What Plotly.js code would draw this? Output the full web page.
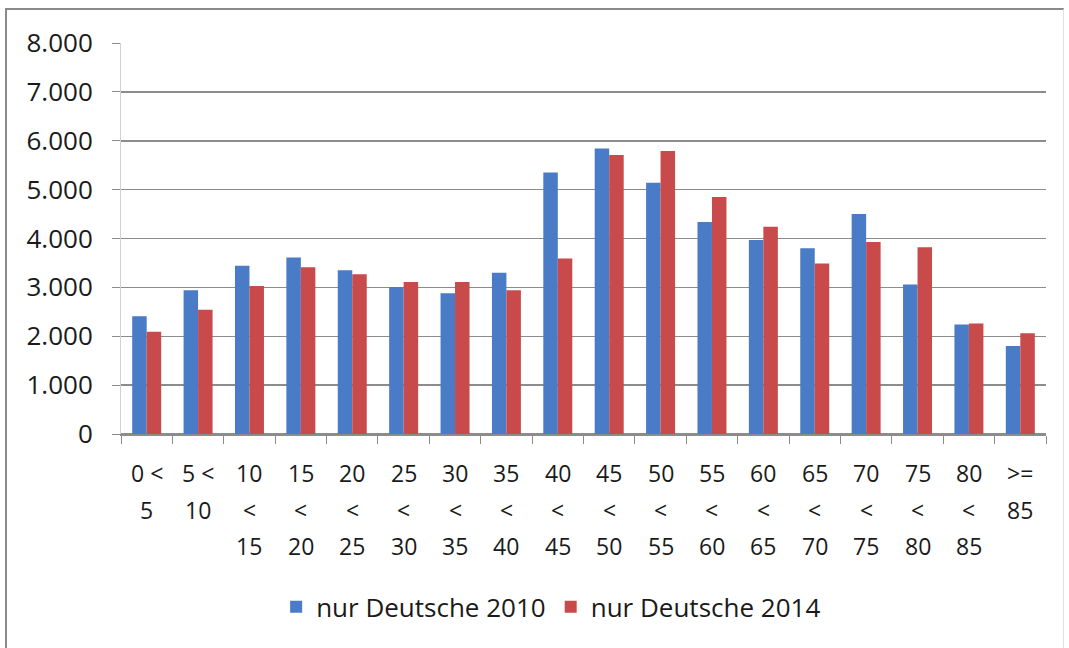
<!DOCTYPE html>
<html>
<head>
<meta charset="utf-8">
<script src="https://cdn.plot.ly/plotly-3.0.1.min.js"></script>
<style>
  html, body { margin: 0; padding: 0; background: #fff; }
  #wrap { position: relative; width: 1069px; height: 648px; }
  #chart { width: 1069px; height: 648px; }
  #frame { position: absolute; left: 5px; top: 8px; width: 1056px; height: 660px;
           border-top: 2px solid #8a8a8a; border-left: 2px solid #8a8a8a;
           border-right: 1px solid #e2e2e2; pointer-events: none; }
</style>
</head>
<body>
<div id="wrap">
  <div id="chart"></div>
  <div id="frame"></div>
</div>
<script>
// Categories (age groups) and their wrapped label lines
const categories = ["0<5","5<10","10<15","15<20","20<25","25<30","30<35","35<40","40<45",
                    "45<50","50<55","55<60","60<65","65<70","70<75","75<80","80<85",">=85"];
const labelLines = [
  ["0 &lt;","5"], ["5 &lt;","10"], ["10","&lt;","15"], ["15","&lt;","20"], ["20","&lt;","25"],
  ["25","&lt;","30"], ["30","&lt;","35"], ["35","&lt;","40"], ["40","&lt;","45"],
  ["45","&lt;","50"], ["50","&lt;","55"], ["55","&lt;","60"], ["60","&lt;","65"],
  ["65","&lt;","70"], ["70","&lt;","75"], ["75","&lt;","80"], ["80","&lt;","85"], ["&gt;=","85"]
];
const series2010 = [2410, 2940, 3440, 3610, 3350, 3010, 2880, 3300, 5350,
                    5840, 5140, 4340, 3970, 3800, 4500, 3060, 2240, 1800];
const series2014 = [2090, 2540, 3030, 3410, 3270, 3110, 3110, 2940, 3590,
                    5710, 5790, 4850, 4240, 3490, 3930, 3820, 2260, 2060];
const yTickVals = [0, 1000, 2000, 3000, 4000, 5000, 6000, 7000, 8000];
const yTickText = ["0", "1.000", "2.000", "3.000", "4.000", "5.000", "6.000", "7.000", "8.000"];
const seriesNames = ["nur Deutsche 2010", "nur Deutsche 2014"];

const FONT = "Open Sans, Liberation Sans, sans-serif";
const traces = [
  { type: "bar", x: categories, y: series2010, name: seriesNames[0],
    marker: { color: "#4a7bc6" }, hoverinfo: "x+y" },
  { type: "bar", x: categories, y: series2014, name: seriesNames[1],
    marker: { color: "#c94a4a" }, hoverinfo: "x+y" }
];

const annotations = [];
categories.forEach((c, i) => {
  labelLines[i].forEach((t, j) => {
    annotations.push({
      x: c, xref: "x", y: 0, yref: "paper",
      text: t, showarrow: false,
      xanchor: "center", yanchor: "middle",
      yshift: -39 - j * 36.5,
      font: { family: FONT, size: 23, color: "#1a1a1a" }
    });
  });
});

const layout = {
  width: 1069, height: 648,
  margin: { l: 121, r: 23, t: 43, b: 214, pad: 0 },
  paper_bgcolor: "#ffffff", plot_bgcolor: "#ffffff",
  barmode: "group", bargap: 0.436, bargroupgap: 0,
  showlegend: true,
  legend: {
    orientation: "h", x: 0.465, xanchor: "center", y: -0.442, yanchor: "middle",
    font: { family: FONT, size: 26, color: "#1a1a1a" },
    itemwidth: 30, traceorder: "normal"
  },
  xaxis: {
    type: "category", tickson: "boundaries",
    showticklabels: false, ticks: "outside", ticklen: 8, tickcolor: "#8c8c8c", tickwidth: 1,
    showline: true, linecolor: "#8c8c8c", linewidth: 1.5,
    showgrid: false, zeroline: false, fixedrange: true
  },
  yaxis: {
    range: [0, 8000], tickvals: yTickVals, ticktext: yTickText,
    ticks: "outside", ticklen: 8, tickcolor: "#8c8c8c",
    ticklabelstandoff: 14,
    showgrid: true, gridcolor: "#8c8c8c", gridwidth: 1.5,
    showline: true, linecolor: "#d0d0d0", linewidth: 1,
    zeroline: true, zerolinecolor: "#8c8c8c", zerolinewidth: 1.5,
    tickfont: { family: FONT, size: 26, color: "#1a1a1a" },
    fixedrange: true
  },
  annotations: annotations
};

Plotly.newPlot("chart", traces, layout, { displayModeBar: false, staticPlot: true });
</script>
</body>
</html>
